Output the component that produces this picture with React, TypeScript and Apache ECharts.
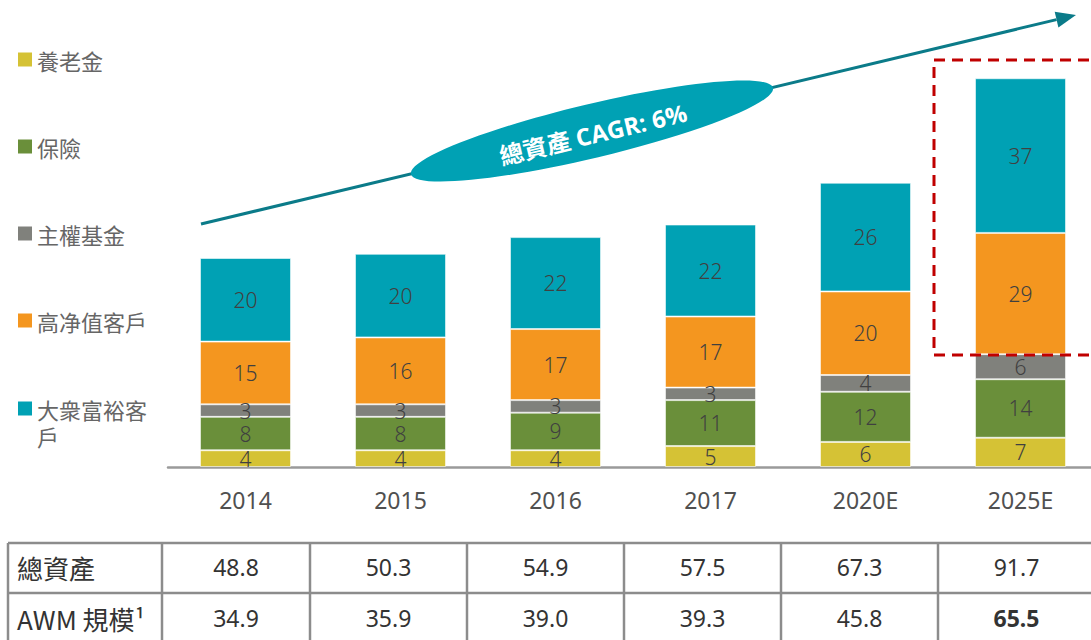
import React, { useEffect, useRef } from "react";
import * as echarts from "echarts";

const years = ["2014", "2015", "2016", "2017", "2020E", "2025E"];
const pension = [4, 4, 4, 5, 6, 7];
const insurance = [8, 8, 9, 11, 12, 14];
const sovereign = [3, 3, 3, 3, 4, 6];
const hnw = [15, 16, 17, 17, 20, 29];
const affluent = [20, 20, 22, 22, 26, 37];

const seriesNames = ["養老金", "保險", "主權基金", "高净值客戶", "大衆富裕客戶"];
const seriesColors = ["#d5c235", "#6a8f3a", "#80817c", "#f4961f", "#00a1b4"];

const tableRowLabels = ["總資產", "AWM 規模¹"];
const totalAssets = ["48.8", "50.3", "54.9", "57.5", "67.3", "91.7"];
const awmScale = ["34.9", "35.9", "39.0", "39.3", "45.8", "65.5"];
const cagrLabel = "總資產 CAGR: 6%";

const CJK = '"Noto Sans", "Noto Sans CJK TC", sans-serif';
const CJK_FIRST = '"Noto Sans CJK TC", "Noto Sans", sans-serif';

export default function App() {
  const ref = useRef<HTMLDivElement>(null);
  useEffect(() => {
    document.body.style.margin = "0";
    document.body.style.overflow = "hidden";
    if (!ref.current) return;
    const chart = echarts.init(ref.current, null, { renderer: "svg" });

    const dataSets = [pension, insurance, sovereign, hnw, affluent];
    const series = dataSets.map((d, i) => ({
      name: seriesNames[i],
      type: "bar",
      stack: "total",
      barWidth: 91,
      data: d,
      itemStyle: { color: seriesColors[i], borderColor: "rgba(255,255,255,0.55)", borderWidth: 1 },
      label: {
        show: true,
        position: "inside",
        color: "#404040",
        fontSize: 21,
        fontFamily: CJK,
        fontWeight: 300,
      },
    }));

    // table
    const colX = [8, 162, 310, 467, 624, 781, 938, 1095];
    const rowY = [543, 593, 643];
    const rowCenters = [567, 618];
    const tableEls: any[] = [];
    rowY.forEach((y) => {
      tableEls.push({
        type: "line",
        shape: { x1: colX[0], y1: y, x2: colX[colX.length - 1], y2: y },
        style: { stroke: "#8c8c8c", lineWidth: 2.5 },
      });
    });
    colX.forEach((x) => {
      tableEls.push({
        type: "line",
        shape: { x1: x, y1: rowY[0], x2: x, y2: rowY[2] },
        style: { stroke: "#8c8c8c", lineWidth: 2.5 },
      });
    });
    const rows = [totalAssets, awmScale];
    rows.forEach((vals, r) => {
      tableEls.push({
        type: "text",
        x: 17,
        y: rowCenters[r],
        style: {
          text: tableRowLabels[r],
          align: "left",
          textAlign: "left",
          verticalAlign: "middle",
          textVerticalAlign: "middle",
          fill: "#333333",
          fontSize: 26,
          fontFamily: CJK_FIRST,
        },
      });
      vals.forEach((v, c) => {
        tableEls.push({
          type: "text",
          x: (colX[c + 1] + colX[c + 2]) / 2,
          y: rowCenters[r],
          style: {
            text: v,
            align: "center",
            textAlign: "center",
            verticalAlign: "middle",
            textVerticalAlign: "middle",
            fill: "#333333",
            fontSize: 23,
            fontWeight: r === 1 && c === vals.length - 1 ? "bold" : "normal",
            fontFamily: CJK,
          },
        });
      });
    });

    // arrow
    const ax1 = 201, ay1 = 224, tipX = 1076, tipY = 15;
    const len = Math.hypot(tipX - ax1, tipY - ay1);
    const dx = (tipX - ax1) / len, dy = (tipY - ay1) / len;
    const nx = -dy, ny = dx;
    const headL = 20, headW = 8;
    const bx = tipX - headL * dx, by = tipY - headL * dy;
    const angle = Math.atan2(ay1 - tipY, tipX - ax1);

    const legendText = { color: "#666666", fontSize: 22, lineHeight: 27, fontFamily: CJK_FIRST };

    const option: any = {
      animation: false,
      grid: { left: 168, width: 930, top: 49, height: 418 },
      legend: [
        {
          orient: "vertical",
          left: 18,
          top: 46,
          padding: 0,
          itemGap: 60,
          itemWidth: 14,
          itemHeight: 14,
          icon: "rect",
          selectedMode: false,
          data: seriesNames.slice(0, 4),
          itemStyle: { borderWidth: 0 },
          textStyle: legendText,
        },
        {
          orient: "vertical",
          left: 18,
          top: 368,
          padding: 0,
          itemWidth: 14,
          itemHeight: 14,
          icon: "rect",
          selectedMode: false,
          data: seriesNames.slice(4),
          itemStyle: { borderWidth: 0 },
          formatter: (name: string) => "\n" + name,
          textStyle: { ...legendText, width: 118, overflow: "break" },
        },
      ],
      xAxis: {
        type: "category",
        data: years,
        axisLine: { lineStyle: { color: "#9a9a9a", width: 2.5 } },
        axisTick: { show: false },
        axisLabel: { color: "#505050", fontSize: 23, margin: 21, fontFamily: CJK },
      },
      yAxis: {
        type: "value",
        min: 0,
        max: 100,
        show: false,
        splitLine: { show: false },
      },
      series,
      graphic: [
        {
          type: "line",
          shape: { x1: ax1, y1: ay1, x2: bx, y2: by },
          style: { stroke: "#0b7b89", lineWidth: 3 },
          z: 10,
        },
        {
          type: "polygon",
          shape: {
            points: [
              [tipX, tipY],
              [bx + headW * nx, by + headW * ny],
              [bx - headW * nx, by - headW * ny],
            ],
          },
          style: { fill: "#0b7b89" },
          z: 10,
        },
        {
          type: "ellipse",
          x: 592,
          y: 131,
          rotation: angle,
          shape: { cx: 0, cy: 0, rx: 186, ry: 27 },
          style: { fill: "#00a1b4" },
          z: 11,
        },
        {
          type: "text",
          x: 593,
          y: 134,
          rotation: angle,
          style: {
            text: cagrLabel,
            align: "center",
            textAlign: "center",
            verticalAlign: "middle",
            textVerticalAlign: "middle",
            fill: "#ffffff",
            fontSize: 24,
            fontWeight: "bold",
            fontFamily: '"Open Sans", "Noto Sans CJK TC", sans-serif',
          },
          z: 12,
        },
        {
          type: "rect",
          shape: { x: 934, y: 60, width: 200, height: 295 },
          style: { fill: "none", stroke: "#c00000", lineWidth: 3, lineDash: [11, 7] },
          z: 12,
        },
        ...tableEls,
      ],
    };
    chart.setOption(option);
    return () => chart.dispose();
  }, []);
  return (
    <div style={{ width: 1091, height: 640, overflow: "hidden" }}>
      <div ref={ref} style={{ width: 1100, height: 640 }} />
    </div>
  );
}
